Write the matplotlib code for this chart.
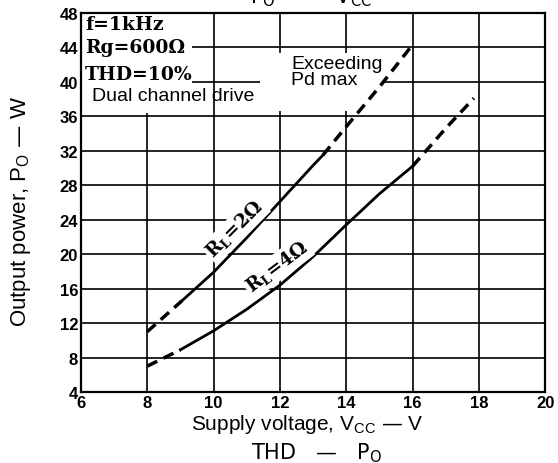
import matplotlib
matplotlib.use('Agg')
import matplotlib.pyplot as plt
from matplotlib.patches import Rectangle

# supply voltage (V) vs output power (W)
v_2_low = [8.0, 9.05]
p_2_low = [11.0, 14.6]
v_2_mid = [9.05, 10, 11, 12, 13, 13.3]
p_2_mid = [14.6, 17.9, 21.9, 26.1, 30.3, 31.5]
v_2_high = [13.3, 14, 15, 16]
p_2_high = [31.5, 34.8, 39.4, 44.3]

v_4_low = [8.0, 9.0]
p_4_low = [7.0, 8.9]
v_4_mid = [9, 10, 11, 12, 13, 14, 15, 16]
p_4_mid = [8.9, 11.1, 13.6, 16.4, 19.7, 23.4, 27.0, 30.2]
v_4_high = [16, 17, 17.85]
p_4_high = [30.2, 34.6, 38.1]

x_ticks = [6, 8, 10, 12, 14, 16, 18, 20]
y_ticks = [4, 8, 12, 16, 20, 24, 28, 32, 36, 40, 44, 48]

fig = plt.figure(figsize=(5.58, 4.64), dpi=100)
ax = fig.add_axes([0.145, 0.153, 0.832, 0.817])
ax.set_xlim(6, 20)
ax.set_ylim(4, 48)
ax.set_xticks(x_ticks)
ax.set_yticks(y_ticks)
ax.tick_params(length=0, pad=2)
for lab in ax.get_xticklabels() + ax.get_yticklabels():
    lab.set_fontfamily('Liberation Sans')
    lab.set_fontweight('bold')
    lab.set_fontsize(12)
ax.grid(True, color='black', linewidth=1.2)
ax.set_axisbelow(True)
for s in ax.spines.values():
    s.set_linewidth(1.6)

# white areas where the grid is broken by the notes
ax.add_patch(Rectangle((6, 36.4), 3.35, 11.6, facecolor='white', edgecolor='none', zorder=1.5))
ax.add_patch(Rectangle((11.4, 36.6), 3.7, 6.8, facecolor='white', edgecolor='none', zorder=1.5))

dash = (0, (3.2, 2.0))
for v, p in [(v_2_low, p_2_low), (v_2_high, p_2_high), (v_4_low, p_4_low), (v_4_high, p_4_high)]:
    ax.plot(v, p, color='black', linewidth=2.5, linestyle=dash, zorder=3)
for v, p in [(v_2_mid, p_2_mid), (v_4_mid, p_4_mid)]:
    ax.plot(v, p, color='black', linewidth=2.0, zorder=3)

serif = dict(family='DejaVu Serif', fontweight='bold', fontsize=13.5)
ax.text(6.12, 46.7, 'f=1kHz', va='center', ha='left', zorder=4, **serif)
ax.text(6.12, 44.0, 'Rg=600Ω', va='center', ha='left', zorder=4, **serif)
ax.text(6.12, 40.9, 'THD=10%', va='center', ha='left', zorder=4, **serif)
ax.text(6.33, 38.4, 'Dual channel drive', va='center', ha='left', zorder=4,
        family='Liberation Sans', fontsize=14)
ax.text(12.35, 41.2, 'Exceeding\nPd max', va='center', ha='left', zorder=4,
        family='Liberation Sans', fontsize=14, linespacing=0.95)

box = dict(facecolor='white', edgecolor='none', pad=1.5)
ax.text(10.65, 22.9, 'R$_\\mathregular{L}$=2Ω', rotation=45, ha='center', va='center',
        rotation_mode='anchor', bbox=box, zorder=4, **serif)
ax.text(11.92, 18.5, 'R$_\\mathregular{L}$=4Ω', rotation=37, ha='center', va='center',
        rotation_mode='anchor', bbox=box, zorder=4, **serif)

fig.text(307 / 558, 1 - 430 / 464, 'Supply voltage, V$_\\mathregular{CC}$ — V',
         ha='center', va='baseline', family='Liberation Sans', fontsize=15)
fig.text(21 / 558, 1 - 211 / 464, 'Output power, P$_\\mathregular{O}$ — W',
         ha='center', va='center', rotation=90, family='Liberation Sans', fontsize=16)

fig.text(311 / 558, 1 - 3 / 464, 'P$_\\mathregular{O}$   —   V$_\\mathregular{CC}$',
         ha='center', va='baseline', family='DejaVu Sans', fontsize=15)
fig.text(316 / 558, 1 - 459 / 464, 'THD   —   P$_\\mathregular{O}$', ha='center', va='baseline',
         family='DejaVu Sans', fontsize=15)

fig.savefig('out.png', dpi=100)
